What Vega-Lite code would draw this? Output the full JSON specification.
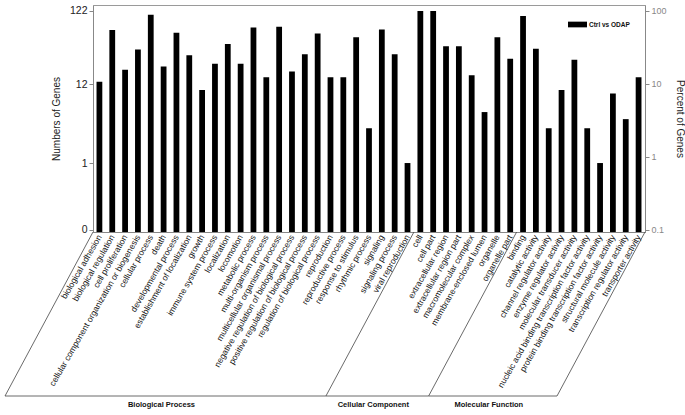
{
  "$schema": "https://vega.github.io/schema/vega-lite/v6.json",
  "width": 552,
  "height": 227,
  "autosize": {"type": "none"},
  "padding": {"left": 93, "top": 5, "right": 40, "bottom": 183},
  "config": {"font": "Liberation Sans", "view": {"stroke": "#9a9a9a", "strokeWidth": 1}},
  "datasets": {
    "genes": [
      {"term": "biological adhesion", "count": 13},
      {"term": "biological regulation", "count": 67},
      {"term": "cell proliferation", "count": 19},
      {"term": "cellular component organization or biogenesis", "count": 36},
      {"term": "cellular process", "count": 108},
      {"term": "death", "count": 21},
      {"term": "developmental process", "count": 61},
      {"term": "establishment of localization", "count": 30},
      {"term": "growth", "count": 10},
      {"term": "immune system process", "count": 23},
      {"term": "localization", "count": 43},
      {"term": "locomotion", "count": 23},
      {"term": "metabolic process", "count": 72},
      {"term": "multi-organism process", "count": 15},
      {"term": "multicellular organismal process", "count": 74},
      {"term": "negative regulation of biological process", "count": 18},
      {"term": "positive regulation of biological process", "count": 31},
      {"term": "regulation of biological process", "count": 60},
      {"term": "reproduction", "count": 15},
      {"term": "reproductive process", "count": 15},
      {"term": "response to stimulus", "count": 53},
      {"term": "rhythmic process", "count": 3},
      {"term": "signaling", "count": 68},
      {"term": "signaling process", "count": 31},
      {"term": "viral reproduction", "count": 1},
      {"term": "cell", "count": 122},
      {"term": "cell part", "count": 122},
      {"term": "extracellular region", "count": 40},
      {"term": "extracellular region part", "count": 40},
      {"term": "macromolecular complex", "count": 16},
      {"term": "membrane-enclosed lumen", "count": 5},
      {"term": "organelle", "count": 53},
      {"term": "organelle part", "count": 27},
      {"term": "binding", "count": 104},
      {"term": "catalytic activity", "count": 37},
      {"term": "channel regulator activity", "count": 3},
      {"term": "enzyme regulator activity", "count": 10},
      {"term": "molecular transducer activity", "count": 26},
      {"term": "nucleic acid binding transcription factor activity", "count": 3},
      {"term": "protein binding transcription factor activity", "count": 1},
      {"term": "structural molecule activity", "count": 9},
      {"term": "transcription regulator activity", "count": 4},
      {"term": "transporter activity", "count": 15}
    ],
    "bounds": [{"b": 0}, {"b": 25}, {"b": 33}, {"b": 43}],
    "groups": [
      {"group": "Biological Process", "first": 0, "last": 25},
      {"group": "Cellular Component", "first": 25, "last": 33},
      {"group": "Molecular Function", "first": 33, "last": 43}
    ]
  },
  "layer": [
    {
      "data": {"name": "genes"},
      "mark": {"type": "bar"},
      "encoding": {
        "x": {
          "field": "term", "type": "nominal", "sort": null,
          "scale": {"paddingInner": 0.55, "paddingOuter": 0.275},
          "axis": {
            "title": null, "labelAngle": -60, "labelAlign": "right", "labelBaseline": "middle",
            "labelFontSize": 8.5, "labelColor": "#111", "labelLimit": 0, "labelPadding": 3,
            "labelOverlap": false, "ticks": false, "domainColor": "#888"
          }
        },
        "y": {
          "field": "count", "type": "quantitative", "stack": null,
          "scale": {"type": "log", "domain": [0.1133, 147], "nice": false},
          "axis": {
            "orient": "left", "title": "Numbers of Genes", "titleFontSize": 10, "titleFontWeight": "normal",
            "titleColor": "#222", "titlePadding": 8, "values": [0.122, 1, 12, 122],
            "labelExpr": "datum.value < 0.5 ? '0' : format(datum.value, 'd')",
            "labelFontSize": 10.5, "labelColor": "#222", "grid": false,
            "tickColor": "#888", "tickSize": 4, "domainColor": "#888"
          }
        },
        "y2": {"value": "height"},
        "color": {
          "datum": "Ctrl vs ODAP",
          "scale": {"range": ["#000000"]},
          "legend": {
            "title": null, "orient": "none", "legendX": 475, "legendY": 10, "padding": 0,
            "symbolType": "M-1,-0.3H1V0.3H-1Z", "symbolSize": 361, "symbolStrokeWidth": 0,
            "labelFontSize": 6.5, "labelFontWeight": "bold", "labelColor": "#111", "labelOffset": 2
          }
        }
      }
    },
    {
      "data": {"name": "genes"},
      "mark": {"type": "tick", "opacity": 0},
      "encoding": {
        "y": {
          "field": "count", "type": "quantitative",
          "scale": {"type": "log", "domain": [0.1133, 147], "nice": false},
          "axis": {
            "orient": "right", "title": "Percent of Genes", "titleFontSize": 10, "titleFontWeight": "normal",
            "titleColor": "#222", "titlePadding": 8, "values": [0.122, 1.22, 12.2, 122],
            "labelExpr": "format(datum.value / 1.22, '~g')",
            "labelFontSize": 9, "labelColor": "#888", "grid": false,
            "tickColor": "#888", "tickSize": 4, "domainColor": "#888"
          }
        }
      }
    },
    {
      "data": {"name": "bounds"},
      "mark": {"type": "rule", "x2Offset": -88, "y2Offset": 164, "color": "#444", "strokeWidth": 0.8},
      "encoding": {
        "x": {"field": "b", "type": "quantitative", "scale": {"domain": [0, 43], "nice": false, "zero": false}, "axis": null},
        "x2": {"field": "b"},
        "y": {"value": "height"},
        "y2": {"value": "height"}
      }
    },
    {
      "data": {"name": "groups"},
      "mark": {"type": "rule", "xOffset": -88, "x2Offset": -88, "yOffset": 164, "color": "#444", "strokeWidth": 0.8},
      "encoding": {
        "x": {"field": "first", "type": "quantitative", "scale": {"domain": [0, 43], "nice": false, "zero": false}, "axis": null},
        "x2": {"field": "last"},
        "y": {"value": "height"}
      }
    },
    {
      "data": {"name": "groups"},
      "transform": [{"calculate": "(datum.first + datum.last) / 2", "as": "mid"}],
      "mark": {"type": "text", "dx": -92, "dy": 173, "fontSize": 7.5, "fontWeight": "bold", "color": "#111", "baseline": "middle", "align": "center"},
      "encoding": {
        "x": {"field": "mid", "type": "quantitative", "scale": {"domain": [0, 43], "nice": false, "zero": false}, "axis": null},
        "y": {"value": "height"},
        "text": {"field": "group"}
      }
    }
  ],
  "resolve": {"scale": {"x": "independent"}, "axis": {"y": "independent"}}
}
